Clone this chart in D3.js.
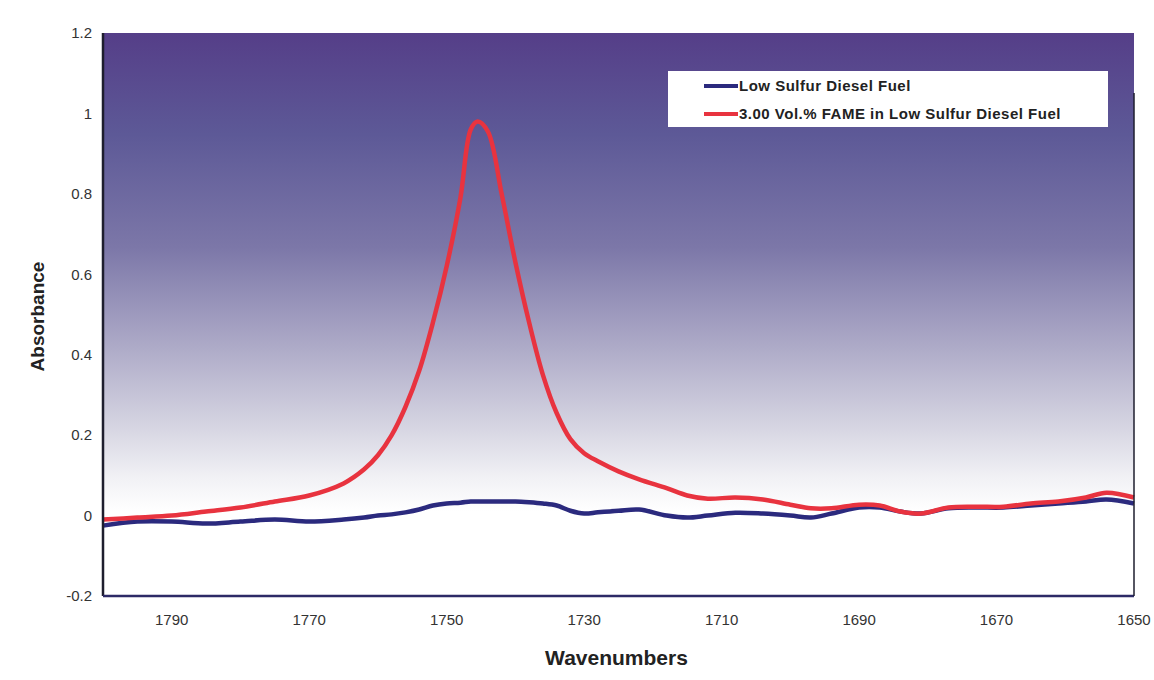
<!DOCTYPE html>
<html>
<head>
<meta charset="utf-8">
<script src="https://d3js.org/d3.v7.min.js"></script>
<style>
    body { margin: 0; background: #ffffff; }
    .font { font-family: Arial, "Liberation Sans", Helvetica, sans-serif; }
    .tick-label { font-size: 15px; fill: #333333; }
    .axis-title { font-weight: bold; fill: #222222; }
    .legend-text { font-size: 15px; font-weight: bold; fill: #222222; letter-spacing: 0.5px; }
</style>
</head>
<body>
<script>
    const WIDTH = 1154;
    const HEIGHT = 680;
    const MARGIN = {top: 33, right: 20, bottom: 84, left: 103};

    // wavenumbers (cm-1)
    const WAVENUMBERS = [1800, 1795, 1790, 1785, 1780, 1775, 1770, 1765, 1762, 1760,
        1758, 1756, 1754, 1752, 1750, 1748, 1746.5, 1745.5, 1744, 1742,
        1740, 1738, 1736, 1734, 1732, 1730, 1728, 1725, 1722, 1718,
        1715, 1712, 1708, 1704, 1700, 1697, 1694, 1690, 1687, 1684,
        1681, 1677, 1673, 1669, 1665, 1661, 1657, 1654, 1650];
    const DIESEL = [-0.025, -0.015, -0.015, -0.02, -0.015, -0.01, -0.015, -0.01, -0.005, 0.0,
        0.003, 0.008, 0.015, 0.025, 0.03, 0.032, 0.035, 0.035, 0.035, 0.035,
        0.035, 0.033, 0.03, 0.025, 0.012, 0.005, 0.008, 0.012, 0.015, 0.0,
        -0.005, 0.0, 0.007, 0.005, 0.0, -0.005, 0.005, 0.02, 0.02, 0.01,
        0.005, 0.018, 0.02, 0.02, 0.025, 0.03, 0.035, 0.04, 0.03];
    const FAME = [-0.01, -0.005, 0.0, 0.01, 0.02, 0.035, 0.05, 0.08, 0.115, 0.15,
        0.2, 0.27, 0.36, 0.48, 0.62, 0.79, 0.96, 0.98, 0.955, 0.8,
        0.63, 0.48, 0.35, 0.255, 0.19, 0.155, 0.135, 0.11, 0.09, 0.068,
        0.05, 0.042, 0.045, 0.04, 0.027, 0.018, 0.018, 0.027, 0.025, 0.01,
        0.005, 0.02, 0.022, 0.022, 0.03, 0.035, 0.045, 0.057, 0.045];
    const X_TICKS = [1790, 1770, 1750, 1730, 1710, 1690, 1670, 1650];
    const Y_TICKS = [-0.2, 0, 0.2, 0.4, 0.6, 0.8, 1, 1.2];
    const SERIES_NAMES = ["Low Sulfur Diesel Fuel", "3.00 Vol.% FAME in Low Sulfur Diesel Fuel"];
    const SERIES_COLORS = ["#2b2a7e", "#e8333f"];

    var plotW = WIDTH - MARGIN.left - MARGIN.right;
    var plotH = HEIGHT - MARGIN.top - MARGIN.bottom;

    var svg = d3.select("body").append("svg")
        .attr("width", WIDTH)
        .attr("height", HEIGHT);

    var x = d3.scaleLinear().domain([1800, 1650]).range([MARGIN.left, MARGIN.left + plotW]);
    var y = d3.scaleLinear().domain([-0.2, 1.2]).range([MARGIN.top + plotH, MARGIN.top]);

    // background gradient of the plot area
    var grad = svg.append("defs").append("linearGradient")
        .attr("id", "bg")
        .attr("x1", 0).attr("y1", 0).attr("x2", 0).attr("y2", 1);
    [[0, "#553e88"], [0.18, "#5d5997"], [0.38, "#7c77a8"], [0.56, "#aeabc8"],
     [0.7, "#d6d5e2"], [0.79, "#f1f1f5"], [0.85, "#ffffff"], [1, "#ffffff"]]
        .forEach(function(s) {
            grad.append("stop").attr("offset", s[0]).attr("stop-color", s[1]);
        });

    svg.append("rect")
        .attr("x", MARGIN.left)
        .attr("y", MARGIN.top)
        .attr("width", plotW)
        .attr("height", plotH)
        .attr("fill", "url(#bg)");

    // y tick labels
    svg.selectAll(".ylab")
        .data(Y_TICKS)
        .enter()
        .append("text")
        .attr("class", "font tick-label")
        .attr("x", MARGIN.left - 11)
        .attr("y", function(d) { return y(d); })
        .attr("dy", "0.35em")
        .attr("text-anchor", "end")
        .text(function(d) { return d; });

    // x tick labels
    svg.selectAll(".xlab")
        .data(X_TICKS)
        .enter()
        .append("text")
        .attr("class", "font tick-label")
        .attr("x", function(d) { return x(d); })
        .attr("y", MARGIN.top + plotH + 29)
        .attr("text-anchor", "middle")
        .text(function(d) { return d; });

    // axis titles
    svg.append("text")
        .attr("class", "font axis-title")
        .attr("x", MARGIN.left + plotW / 2 - 2)
        .attr("y", 665)
        .attr("text-anchor", "middle")
        .style("font-size", "21px")
        .text("Wavenumbers");

    svg.append("text")
        .attr("class", "font axis-title")
        .attr("transform", "translate(44," + (MARGIN.top + plotH / 2 + 2) + ") rotate(-90)")
        .attr("text-anchor", "middle")
        .style("font-size", "19px")
        .text("Absorbance");

    // series
    var line = d3.line()
        .x(function(d) { return x(d[0]); })
        .y(function(d) { return y(d[1]); })
        .curve(d3.curveCatmullRom);

    [DIESEL, FAME].forEach(function(vals, i) {
        svg.append("path")
            .datum(WAVENUMBERS.map(function(w, j) { return [w, vals[j]]; }))
            .attr("d", line)
            .attr("fill", "none")
            .attr("stroke", SERIES_COLORS[i])
            .attr("stroke-width", 4.5)
            .attr("stroke-linejoin", "round");
    });

    // frame: left, bottom, right
    svg.append("line")
        .attr("x1", MARGIN.left).attr("x2", MARGIN.left)
        .attr("y1", MARGIN.top).attr("y2", MARGIN.top + plotH)
        .attr("stroke", "#1e1e2e").attr("stroke-width", 2.5);
    svg.append("line")
        .attr("x1", MARGIN.left).attr("x2", MARGIN.left + plotW)
        .attr("y1", MARGIN.top + plotH).attr("y2", MARGIN.top + plotH)
        .attr("stroke", "#2c2a66").attr("stroke-width", 2.5);
    svg.append("line")
        .attr("x1", MARGIN.left + plotW).attr("x2", MARGIN.left + plotW)
        .attr("y1", MARGIN.top + 60).attr("y2", MARGIN.top + plotH)
        .attr("stroke", "#1e1e2e").attr("stroke-width", 1.5);

    // legend
    var legend = svg.append("g").attr("transform", "translate(668,71)");
    legend.append("rect")
        .attr("width", 440)
        .attr("height", 56)
        .attr("fill", "#ffffff");
    SERIES_NAMES.forEach(function(name, i) {
        var ly = 15 + i * 28;
        legend.append("line")
            .attr("x1", 36).attr("x2", 70)
            .attr("y1", ly).attr("y2", ly)
            .attr("stroke", SERIES_COLORS[i])
            .attr("stroke-width", 4);
        legend.append("text")
            .attr("class", "font legend-text")
            .attr("x", 71)
            .attr("y", ly)
            .attr("dy", "0.35em")
            .text(name);
    });
</script>
</body>
</html>
